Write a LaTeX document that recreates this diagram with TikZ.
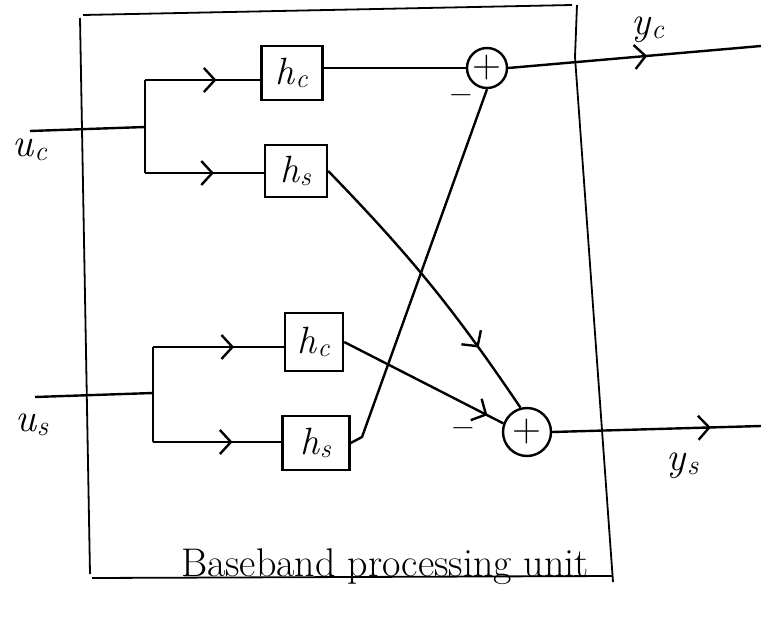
\documentclass[tikz,border=0pt]{standalone}
\usepackage{fontspec}
\usetikzlibrary{arrows.meta,decorations.markings}
\newcommand\lblsub[2]{\textit{#1}\textsubscript{\textit{#2}}}
\begin{document}
\begin{tikzpicture}[x=1pt,y=-1pt,
  wire/.style={line width=2.4pt},
  frame/.style={line width=1.8pt},
  blk/.style={draw, line width=2.4pt, inner sep=0pt, font=\fontsize{38}{42}\selectfont},
  sumnode/.style={draw, circle, line width=2.4pt, inner sep=0pt, font=\fontsize{42}{44}\selectfont},
  midarrow/.style={postaction={decorate}, decoration={markings, mark=at position #1 with {\arrow{Straight Barb[length=11pt,width=24pt,line width=2.4pt]}}}},
  lbl/.style={font=\fontsize{40}{44}\selectfont},
  sgn/.style={font=\bfseries\fontsize{34}{36}\selectfont},
]
\useasboundingbox (0,0) rectangle (761,621);
% frame
\draw[frame] (83,15) -- (572,5);
\draw[frame] (80,18) -- (90,574);
\draw[frame] (92,578) -- (612,576);
\draw[frame] (577,5) -- (575,57) -- (613,582);
% blocks
\node[blk, minimum width=61pt, minimum height=54pt] (hc1) at (292,73) {\lblsub{h}{c}};
\node[blk, minimum width=62pt, minimum height=52pt] (hs1) at (296,171) {\lblsub{h}{s}};
\node[blk, minimum width=58pt, minimum height=58pt] (hc2) at (314,342) {\lblsub{h}{c}};
\node[blk, minimum width=67pt, minimum height=54pt] (hs2) at (316,443) {\lblsub{h}{s}};
\node[sumnode, minimum size=40pt] (add1) at (487,68) {};
\node[sumnode, minimum size=48pt] (add2) at (527,432) {};
\node[font=\fontsize{40}{42}\selectfont, inner sep=0pt] (p1) at (add1.center) {+};
\node[font=\fontsize{40}{42}\selectfont, inner sep=0pt] (p2) at (add2.center) {+};
% inputs
\coordinate (ucin) at (30,131);
\coordinate (j1) at (145,127);
\coordinate (j1t) at (145,80);
\coordinate (j1b) at (145,173);
\coordinate (usin) at (35,397);
\coordinate (j2) at (153,393);
\coordinate (j2t) at (153,347);
\coordinate (j2b) at (153,442);
\coordinate (ycout) at (761,46);
\coordinate (ysout) at (761,426);
\coordinate (hs2k) at (362,437);
\draw[wire] (ucin) -- (j1);
\draw[wire] (j1t) -- (j1b);
\draw[wire, midarrow=0.62] (j1t) -- (hc1.west |- j1t);
\draw[wire, midarrow=0.58] (j1b) -- (hs1.west |- j1b);
\draw[wire] (usin) -- (j2);
\draw[wire] (j2t) -- (j2b);
\draw[wire, midarrow=0.62] (j2t) -- (hc2.west |- j2t);
\draw[wire, midarrow=0.62] (j2b) -- (hs2.west |- j2b);
% internal
\draw[wire] (hc1.east |- add1.west) -- (add1.west);
\draw[wire, midarrow=0.76] (hs1.east) to[bend left=5] (add2.105);
\draw[wire, midarrow=0.9] (hc2.east) -- (add2.160);
\draw[wire] (hs2.east) -- (hs2k) -- (add1.south);
% outputs
\draw[wire, midarrow=0.55] (add1.east) -- (ycout);
\draw[wire, midarrow=0.76] (add2.east) -- (ysout);
% signs
\node[sgn] (m1) at (461,100) {\textendash};
\node[sgn] (m2) at (463,433) {\textendash};
% labels
\node[lbl] (uc) at (30,150) {\lblsub{u}{c}};
\node[lbl] (us) at (32,425) {\lblsub{u}{s}};
\node[lbl] (yc) at (648,30) {\lblsub{y}{c}};
\node[lbl] (ys) at (683,466) {\lblsub{y}{s}};
\node[font=\fontsize{40}{46}\selectfont, anchor=base] (title) at (385,576) {Baseband processing unit};
\end{tikzpicture}
\end{document}
